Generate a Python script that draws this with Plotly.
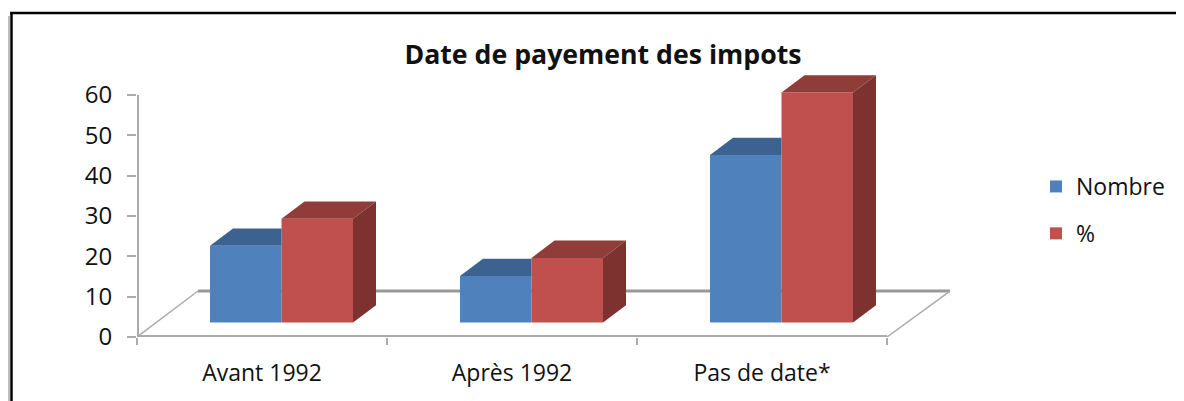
"""
Date de payement des impots - pseudo 3D column chart
"""
import plotly.graph_objects as go

CATEGORIES = ['Avant 1992', 'Après 1992', 'Pas de date*']
NOMBRE = [19, 11.5, 41.5]
POURCENT = [25.7, 16, 57]
Y_TICKS = [0, 10, 20, 30, 40, 50, 60]

COLORS = {
    'blue': '#4F81BD', 'blue_top': '#3C6291',
    'red': '#C0504D', 'red_top': '#903C39', 'red_side': '#7D3230',
    'axis': '#ABABAB', 'wall': '#989898', 'text': '#111111',
}

# fake perspective, in axis units
BASE = 3.6
DEPTH_X = 0.092
DEPTH_Y = 4.3
FLOOR_X = 0.244
FLOOR_Y = 11.4
BAR_W = 0.286
BLUE_OFFSET = 0.292
RED_OFFSET = BLUE_OFFSET + BAR_W

# the page has an 8px body margin, so the figure is 8px smaller than the window
WIDTH = 1176
HEIGHT = 393
FONT = 'Open Sans'


def face(xs, ys, color):
    return go.Scatter(x=xs, y=ys, mode='lines', fill='toself', fillcolor=color,
                      line=dict(width=0), hoverinfo='skip', showlegend=False,
                      cliponaxis=False)


fig = go.Figure()

n = len(CATEGORIES)
fig.add_trace(go.Bar(x=[i + BLUE_OFFSET for i in range(n)], y=NOMBRE, base=BASE, width=BAR_W,
                     offset=0, name='Nombre', legendgroup='nombre',
                     marker=dict(color=COLORS['blue'], line=dict(width=0))))
fig.add_trace(go.Bar(x=[i + RED_OFFSET for i in range(n)], y=POURCENT, base=BASE, width=BAR_W,
                     offset=0, name='%', legendgroup='pourcent',
                     marker=dict(color=COLORS['red'], line=dict(width=0))))

for i in range(n):
    x0 = i + BLUE_OFFSET
    x1 = i + RED_OFFSET
    x2 = x1 + BAR_W
    top_b = BASE + NOMBRE[i]
    top_r = BASE + POURCENT[i]
    # blue top stops where the red front starts
    fig.add_trace(face([x0, x0 + DEPTH_X, x1, x1, x0], [top_b, top_b + DEPTH_Y, top_b + DEPTH_Y, top_b, top_b], COLORS['blue_top']))
    fig.add_trace(face([x1, x1 + DEPTH_X, x2 + DEPTH_X, x2, x1], [top_r, top_r + DEPTH_Y, top_r + DEPTH_Y, top_r, top_r], COLORS['red_top']))
    fig.add_trace(face([x2, x2 + DEPTH_X, x2 + DEPTH_X, x2, x2], [top_r, top_r + DEPTH_Y, BASE + DEPTH_Y, BASE, top_r], COLORS['red_side']))

# y axis line stops at 60, the plot area goes higher
# (shapes on the plot edge get clipped in half, hence width 4)
fig.add_shape(type='line', x0=0, x1=0, y0=0, y1=60, xref='x', yref='y', layer='below',
              line=dict(color=COLORS['axis'], width=4))
# floor
fig.add_shape(type='line', x0=0, x1=FLOOR_X, y0=0, y1=FLOOR_Y, xref='x', yref='y', layer='below',
              line=dict(color=COLORS['axis'], width=1.5))
fig.add_shape(type='line', x0=FLOOR_X, x1=n + FLOOR_X + 0.008, y0=FLOOR_Y, y1=FLOOR_Y, xref='x', yref='y', layer='below',
              line=dict(color=COLORS['wall'], width=3))
fig.add_shape(type='line', x0=n, x1=n + FLOOR_X + 0.008, y0=0, y1=FLOOR_Y, xref='x', yref='y', layer='below',
              line=dict(color=COLORS['axis'], width=1.5))
fig.add_shape(type='line', x0=0, x1=n, y0=0, y1=0, xref='x', yref='y', layer='below',
              line=dict(color=COLORS['axis'], width=4))


# black frame of the pasted picture, given in window pixels
def paper_x(px):
    return (px - 137) / 823


def paper_y(py):
    return (337 - py) / 267


fig.add_shape(type='line', xref='paper', yref='paper', x0=paper_x(9), x1=paper_x(9), y0=paper_y(16), y1=paper_y(401),
              line=dict(color='#BDBDBD', width=2))
fig.add_shape(type='line', xref='paper', yref='paper', x0=paper_x(11.5), x1=paper_x(11.5), y0=paper_y(13), y1=paper_y(401),
              line=dict(color='black', width=2.5))
fig.add_shape(type='line', xref='paper', yref='paper', x0=paper_x(10), x1=paper_x(1184), y0=paper_y(13), y1=paper_y(13),
              line=dict(color='black', width=2.5))

fig.update_layout(
    width=WIDTH,
    height=HEIGHT,
    margin=dict(l=129, r=224, t=62, b=64),
    paper_bgcolor='white',
    plot_bgcolor='white',
    font=dict(family=FONT, color=COLORS['text'], size=19),
    title=dict(text='<b>Date de payement des impots</b>', font=dict(size=26.7, family=FONT, color=COLORS['text']),
               xref='container', yref='container', x=(603 - 8) / WIDTH, xanchor='center', y=1 - (55 - 8) / HEIGHT, yanchor='middle'),
    barmode='overlay',
    showlegend=True,
    legend=dict(xref='container', yref='container', x=(1036 - 8) / WIDTH, xanchor='left', y=1 - (165 - 8) / HEIGHT, yanchor='top',
                tracegroupgap=14, font=dict(size=23), itemclick=False),
    xaxis=dict(range=[0, 3.292], tickvals=[0.5, 1.5, 2.5], ticktext=CATEGORIES, ticks='', showgrid=False,
               zeroline=False, showline=False, tickfont=dict(size=23), ticklabelstandoff=20,
               minor=dict(tick0=0, dtick=1, ticks='outside', ticklen=7, tickcolor=COLORS['axis'], tickwidth=2, showgrid=False)),
    yaxis=dict(range=[0, 66.2], tickvals=Y_TICKS, ticks='outside', ticklen=9, tickcolor=COLORS['axis'], tickwidth=2,
               showgrid=False, zeroline=False, showline=False, tickfont=dict(size=24), ticklabelstandoff=10),
)

fig.write_html("out.html")
